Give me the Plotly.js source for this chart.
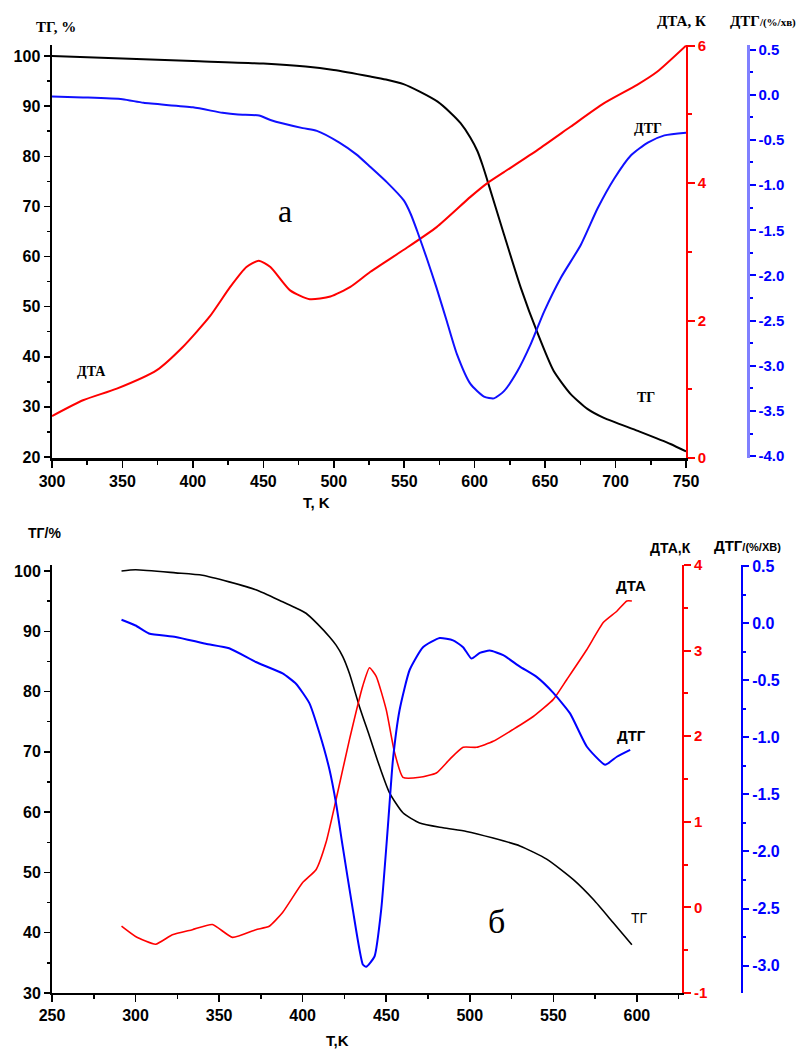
<!DOCTYPE html>
<html><head><meta charset="utf-8">
<script src="https://cdn.plot.ly/plotly-3.0.1.min.js"></script>
<style>html,body{margin:0;padding:0;background:#fff}#chart{width:812px;height:1053px}</style>
</head><body><div id="chart"></div>
<script>
// ---------- Panel a data ----------
const tgA_T = [300,350,400,450,480,500,526,537,549.5,561,573.7,582.8,590,597,602,605.5,609,620.6,632.7,644.8,656,668,680,691.7,715.8,739,750];
const tgA_V = [100.0,99.5,99.0,98.5,97.9,97.2,95.9,95.3,94.4,92.9,90.9,88.7,86.6,83.7,81.0,78.3,75.2,64.6,53.8,44.6,37.2,32.6,29.6,27.8,25.2,22.6,21.1];

const dtgA_T = [300,322,350,365,400,421,432,447,455,478,488,504,516,526,537.8,549.7,554.6,559,566,573,580.3,587.4,597,606.6,613.7,620.8,630.3,639.8,649.3,661,675.4,687.2,699,711,722.9,734.7,750];
const dtgA_V = [-0.02,-0.03,-0.05,-0.09,-0.14,-0.20,-0.22,-0.23,-0.28,-0.37,-0.40,-0.53,-0.66,-0.80,-0.97,-1.17,-1.32,-1.50,-1.81,-2.14,-2.51,-2.87,-3.20,-3.34,-3.36,-3.28,-3.06,-2.76,-2.40,-2.03,-1.66,-1.26,-0.93,-0.67,-0.53,-0.45,-0.42];

const dtaA_T = [300,322,346,374.4,393,412,426.5,438,446.7,455,469,483,497.6,511.8,526,549.7,573,597,609,620.8,644.5,668,691.6,715.3,729.5,750];
const dtaA_V = [0.61,0.84,1.01,1.28,1.62,2.06,2.49,2.78,2.87,2.78,2.44,2.31,2.35,2.49,2.71,3.03,3.36,3.80,4.00,4.16,4.48,4.82,5.16,5.43,5.62,6.0];

// ---------- Panel b data ----------
const tgB_T = [291.6,300,324,340,356,372,388,395,402,409,416,420,424,428,434,440,446,452,460,470,484,498,514,530,546,562,574,586,597];
const tgB_V = [100.0,100.2,99.7,99.3,98.2,96.9,94.9,94.0,93.0,91.2,89.1,87.7,85.8,83.0,77.5,72.6,67.6,63.2,59.9,58.2,57.4,56.8,55.7,54.4,52.2,48.8,45.5,41.6,38.0];

const dtgB_T = [291.6,300,308,324,342,356,372,388,396,404,410,416,420,424,430,436,438,443,447,451,454,458,464,472,482,490,496,501,506,512,520,530,540,550,560,570,581,588,596];
const dtgB_V = [0.03,-0.02,-0.09,-0.12,-0.18,-0.22,-0.34,-0.44,-0.53,-0.70,-0.96,-1.28,-1.58,-1.96,-2.51,-2.99,-3.01,-2.92,-2.51,-1.78,-1.20,-0.76,-0.41,-0.21,-0.13,-0.15,-0.21,-0.31,-0.26,-0.24,-0.28,-0.38,-0.47,-0.61,-0.79,-1.08,-1.24,-1.17,-1.11];

const dtaB_T = [291.6,300,312,322,334,346,358,372,380,388,400,408,414,420,428,436,440,444,450,455,460,470,480,488,496,504,514,526,538,550,558,570,580,588,594,597];
const dtaB_V = [-0.22,-0.34,-0.43,-0.32,-0.26,-0.20,-0.35,-0.26,-0.22,-0.06,0.29,0.44,0.76,1.26,1.96,2.59,2.80,2.70,2.31,1.81,1.52,1.52,1.57,1.73,1.87,1.87,1.94,2.08,2.23,2.43,2.66,3.01,3.33,3.46,3.58,3.58];

// ---------- tick labels ----------
const blueTicksA = [-4.0,-3.5,-3.0,-2.5,-2.0,-1.5,-1.0,-0.5,0.0,0.5];
const blueLabelsA = ['-4.0','-3.5','-3.0','-2.5','-2.0','-1.5','-1.0','-0.5','0.0','0.5'];
const blueTicksB = [-3.0,-2.5,-2.0,-1.5,-1.0,-0.5,0.0,0.5];
const blueLabelsB = ['-3.0','-2.5','-2.0','-1.5','-1.0','-0.5','0.0','0.5'];
const redTicksB = [-1,0,1,2,3,4];
const redLabelsB = ['-1','0','1','2','3','4'];

const W = 812, H = 1053;
const px = x => x / W;
const py = y => 1 - y / H;
const SANS = 'Liberation Sans, Arial, sans-serif';
const SERIF = 'Liberation Serif, Times New Roman, serif';
const RED = '#ff0000', BLUE = '#0000ff', BLACK = '#000000';

function tf(color, size){ return {family: SANS, size: size, color: color, weight: 'bold'}; }

const traces = [
  {x: tgA_T, y: tgA_V, xaxis:'x', yaxis:'y', mode:'lines', line:{color:BLACK, width:2, shape:'spline', smoothing:0.6}},
  {x: dtaA_T, y: dtaA_V, xaxis:'x', yaxis:'y2', mode:'lines', line:{color:RED, width:2, shape:'spline', smoothing:0.6}},
  {x: dtgA_T, y: dtgA_V, xaxis:'x', yaxis:'y3', mode:'lines', line:{color:'#1010ff', width:2, shape:'spline', smoothing:0.6}},
  {x: tgB_T, y: tgB_V, xaxis:'x2', yaxis:'y4', mode:'lines', line:{color:BLACK, width:1.6, shape:'spline', smoothing:0.6}},
  {x: dtaB_T, y: dtaB_V, xaxis:'x2', yaxis:'y5', mode:'lines', line:{color:RED, width:1.6, shape:'spline', smoothing:0.5}},
  {x: dtgB_T, y: dtgB_V, xaxis:'x2', yaxis:'y6', mode:'lines', line:{color:BLUE, width:2, shape:'spline', smoothing:0.5}}
];

const base = {showgrid:false, zeroline:false, showline:true, ticks:'outside', fixedrange:true};

function ann(text, x, y, font, xanchor){
  return {text:text, x:px(x), y:py(y), xref:'paper', yref:'paper', showarrow:false,
          xanchor: xanchor || 'center', yanchor:'middle', font:font};
}

const layout = {
  width: W, height: H,
  margin: {l:0, r:0, t:0, b:0},
  paper_bgcolor:'#fff', plot_bgcolor:'#fff',
  showlegend:false,
  xaxis: Object.assign({}, base, {
    domain:[px(52), px(686)], range:[300,750], anchor:'y',
    linecolor:BLACK, linewidth:2.5, ticklen:7, tickwidth:1.5, tickcolor:BLACK,
    tick0:300, dtick:50, tickfont: tf(BLACK,16),
    minor:{ticks:'outside', ticklen:4, tickwidth:1.5, tickcolor:BLACK, dtick:25}
  }),
  yaxis: Object.assign({}, base, {
    domain:[py(458), py(45)], range:[19.8,102.2], anchor:'x',
    linecolor:BLACK, linewidth:2.5, ticklen:6, tickwidth:1.5, tickcolor:BLACK,
    tick0:0, dtick:10, tickfont: tf(BLACK,16),
    minor:{ticks:'outside', ticklen:3, tickwidth:1.5, tickcolor:BLACK, dtick:5}
  }),
  yaxis2: Object.assign({}, base, {
    overlaying:'y', side:'right', anchor:'x', range:[0,6.01],
    linecolor:RED, linewidth:1.8, ticklen:7, tickwidth:2, tickcolor:RED,
    tick0:0, dtick:2, tickfont: tf(RED,15),
    minor:{ticks:'outside', ticklen:4, tickwidth:2, tickcolor:RED, dtick:1}
  }),
  yaxis3: Object.assign({}, base, {
    overlaying:'y', side:'right', anchor:'free', position:px(748), range:[-4.02,0.55],
    linecolor:'#8080ff', linewidth:2.5, ticklen:6, tickwidth:2, tickcolor:BLUE,
    tickmode:'array', tickvals: blueTicksA, ticktext: blueLabelsA, tickfont: tf(BLUE,15),
    minor:{ticks:'outside', ticklen:3, tickwidth:2, tickcolor:BLUE, tickmode:'linear', tick0:0, dtick:0.25}
  }),
  xaxis2: Object.assign({}, base, {
    domain:[px(52), px(682)], range:[250,627], anchor:'y4',
    linecolor:BLACK, linewidth:2, ticklen:7, tickwidth:1.5, tickcolor:BLACK,
    tick0:250, dtick:50, tickfont: tf(BLACK,16),
    minor:{ticks:'outside', ticklen:4, tickwidth:1.5, tickcolor:BLACK, dtick:25}
  }),
  yaxis4: Object.assign({}, base, {
    domain:[py(993), py(565)], range:[30,101], anchor:'x2',
    linecolor:BLACK, linewidth:2, ticklen:6, tickwidth:1.5, tickcolor:BLACK,
    tick0:0, dtick:10, tickfont: tf(BLACK,16),
    minor:{ticks:'outside', ticklen:3, tickwidth:1.5, tickcolor:BLACK, dtick:5}
  }),
  yaxis5: Object.assign({}, base, {
    overlaying:'y4', side:'right', anchor:'x2', range:[-1,4],
    linecolor:RED, linewidth:2, ticklen:7, tickwidth:2, tickcolor:RED,
    tickmode:'array', tickvals: redTicksB, ticktext: redLabelsB, tickfont: tf(RED,15),
    minor:{ticks:'outside', ticklen:4, tickwidth:2, tickcolor:RED, tickmode:'linear', tick0:0, dtick:0.5}
  }),
  yaxis6: Object.assign({}, base, {
    overlaying:'y4', side:'right', anchor:'free', position:px(742), range:[-3.24,0.51],
    linecolor:BLUE, linewidth:2, ticklen:6, tickwidth:2, tickcolor:BLUE,
    tickmode:'array', tickvals: blueTicksB, ticktext: blueLabelsB, tickfont: tf(BLUE,16),
    minor:{ticks:'outside', ticklen:3, tickwidth:2, tickcolor:BLUE, tickmode:'linear', tick0:0, dtick:0.25}
  }),
  annotations: [
    // panel a
    ann('ТГ, %', 56, 27, {family:SERIF, size:15, color:BLACK, weight:'bold'}),
    ann('ДТА, К', 681, 21, {family:SERIF, size:15, color:BLACK, weight:'bold'}),
    ann('ДТГ<span style="font-size:11px">/(%/хв)</span>', 728, 21, {family:SERIF, size:15, color:BLACK, weight:'bold'}, 'left'),
    ann('T, K', 316, 502, tf(BLACK,15)),
    ann('а', 285, 211, {family:SERIF, size:32, color:BLACK}),
    ann('ДТА', 91, 371, {family:SERIF, size:14, color:BLACK, weight:'bold'}),
    ann('ДТГ', 648, 128, {family:SERIF, size:14, color:BLACK, weight:'bold'}),
    ann('ТГ', 646, 397, {family:SERIF, size:14, color:BLACK, weight:'bold'}),
    // panel b
    ann('ТГ/%', 44, 533, tf(BLACK,14)),
    ann('ДТА,К', 670, 548, tf(BLACK,14)),
    ann('ДТГ<span style="font-size:11px">/(%/ХВ)</span>', 712, 545, tf(BLACK,15), 'left'),
    ann('ДТА', 631, 585, tf(BLACK,15)),
    ann('ДТГ', 631, 735, tf(BLACK,15)),
    ann('ТГ', 639, 918, {family:SANS, size:14, color:BLACK}),
    ann('б', 497, 921, {family:SERIF, size:34, color:BLACK}),
    ann('T,K', 337, 1040, tf(BLACK,15))
  ]
};

Plotly.newPlot('chart', traces, layout, {staticPlot:true, displayModeBar:false});
</script></body></html>
